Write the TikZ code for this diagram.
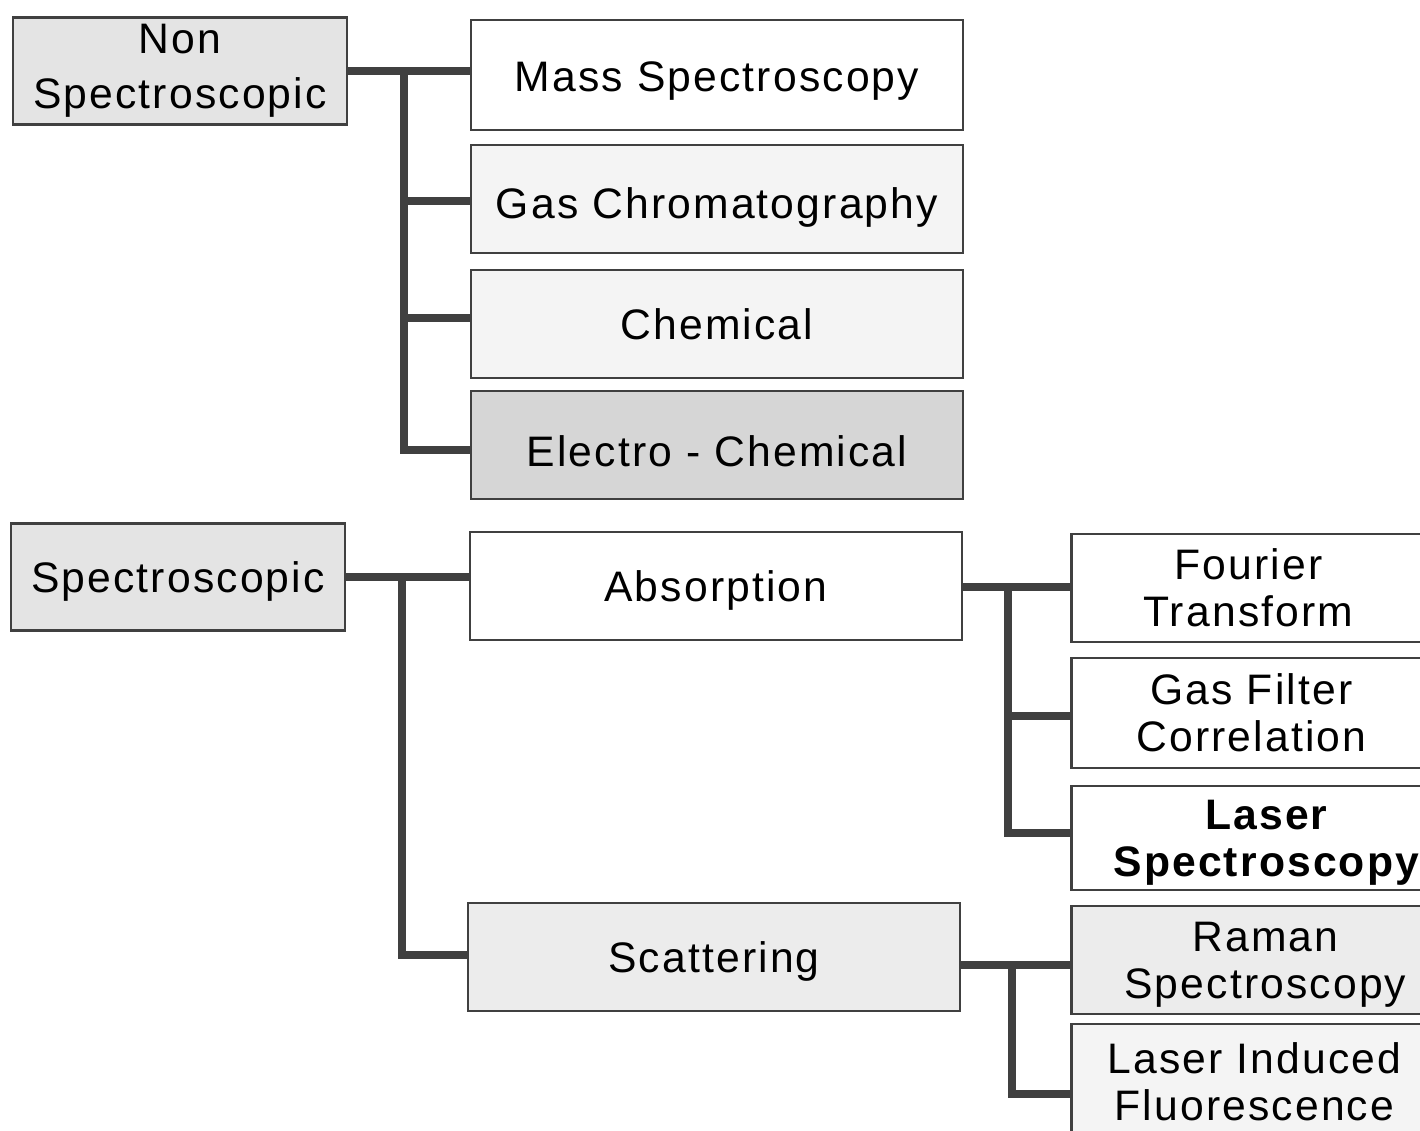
\documentclass[tikz,border=0pt]{standalone}
\usepackage{fontspec}
\setmainfont{Liberation Sans}[LetterSpace=5.0]
\usetikzlibrary{calc}

\definecolor{linegray}{RGB}{64,64,64}
\definecolor{shadeA}{RGB}{228,228,228}
\definecolor{shadeB}{RGB}{214,214,214}
\definecolor{shadeC}{RGB}{236,236,236}
\definecolor{shadeD}{RGB}{244,244,244}

\newcommand{\boxfont}{\fontsize{32}{35}\selectfont}
\newcommand{\lowered}[2]{\raisebox{-#1}[\height][\depth]{#2}}

\tikzset{
  box/.style={draw=linegray, line width=2pt, inner sep=0pt, align=center, font=\boxfont},
  rootbox/.style={box, minimum width=250.5pt, minimum height=80pt},
  midbox/.style={box, minimum width=369pt, minimum height=81pt},
  leafbox/.style={box, anchor=west, minimum height=81pt},
  lowtext/.style={text depth=0pt},
  link/.style={draw=linegray, line width=6.5pt},
}

\begin{document}
\begin{tikzpicture}[x=0.75pt,y=0.75pt,yscale=-1,xscale=1]
\fill[white] (0,0) rectangle (1420,1131);
\useasboundingbox (0,0) rectangle (1420,1131);

% Root boxes
\node[rootbox, fill=shadeA] (nonspec) at (180,71) {Non\\[6pt]Spectroscopic};
\node[rootbox, fill=shadeA, lowtext] (spec) at (178,577) {Spectroscopic};

% Non spectroscopic methods
\node[midbox, minimum height=82.5pt, lowtext] (mass) at (717,75) {\lowered{1.5pt}{Mass Spectroscopy}};
\node[midbox, fill=shadeD] (gaschrom) at (717,199) {\lowered{6pt}{Gas Chromatography}};
\node[midbox, fill=shadeD] (chem) at (717,324) {Chemical};
\node[midbox, fill=shadeB] (electro) at (717,445) {\lowered{5pt}{Electro - Chemical}};

% Spectroscopic methods
\node[midbox, lowtext] (absorb) at (716,586) {Absorption};
\node[midbox, fill=shadeC, lowtext] (scatter) at (714,957) {Scattering};

% Leaves
\node[leafbox, minimum width=265.5pt] (fourier) at (1070,588) {Fourier\\Transform};
\node[leafbox, minimum width=270pt, minimum height=82.5pt] (gasfilter) at (1070,713) {Gas Filter\\Correlation};
\node[leafbox, minimum width=292.5pt, minimum height=78pt, font=\boxfont\bfseries, lowtext] (laser) at (1070,838) {Laser\\Spectroscopy};
\node[leafbox, minimum width=291pt, fill=shadeC, lowtext] (raman) at (1070,960) {Raman\\Spectroscopy};
\node[leafbox, minimum width=274.5pt, fill=shadeD, minimum height=87pt] (lif) at (1070,1082) {Laser Induced\\Fluorescence};

% Trunk points
\coordinate (nj) at (404,71);
\coordinate (sj) at (402,578);
\coordinate (aj) at (1008,587);
\coordinate (cj) at (1012,965);

% Non spectroscopic tree
\draw[link] (nonspec.east) -- (nonspec.east -| mass.west);
\draw[link] (nj) |- ($(gaschrom.west)+(0,2)$);
\draw[link] (nj) |- ($(chem.west)+(0,-6)$);
\draw[link] (nj) |- ($(electro.west)+(0,5)$);

% Spectroscopic tree
\draw[link] (spec.east) -- (spec.east -| absorb.west);
\draw[link] (sj) |- ($(scatter.west)+(0,-2)$);

% Absorption tree
\draw[link] ($(absorb.east)+(0,1)$) -- (aj -| fourier.west);
\draw[link] (aj) |- ($(gasfilter.west)+(0,3)$);
\draw[link] (aj) |- ($(laser.west)+(0,-5)$);

% Scattering tree
\draw[link] ($(scatter.east)+(0,8)$) -- (cj -| raman.west);
\draw[link] (cj) |- ($(lif.west)+(0,12)$);

\end{tikzpicture}
\end{document}
